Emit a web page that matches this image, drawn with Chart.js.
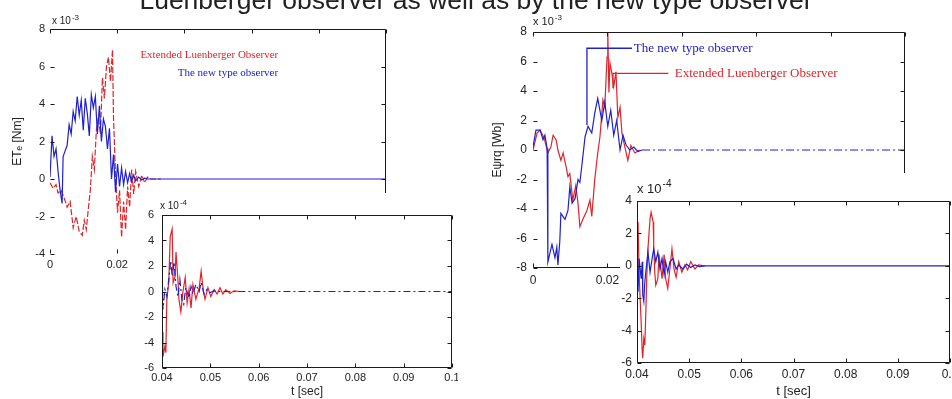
<!DOCTYPE html>
<html>
<head>
<meta charset="utf-8">
<script src="https://cdn.jsdelivr.net/npm/chart.js@4.4.1/dist/chart.umd.min.js"></script>
<style>
  body { margin: 0; width: 952px; height: 399px; background: #fff; overflow: hidden; position: relative; }
  canvas { position: absolute; }
  #title { position: absolute; left: 0; width: 952px; top: -15px; text-align: center;
           font: 26.5px/30px "Liberation Sans", Arial, sans-serif; color: #222; white-space: nowrap; }
</style>
</head>
<body>
<canvas id="mainL" width="400" height="272" style="left:0;top:0"></canvas>
<canvas id="mainR" width="420" height="285" style="left:490px;top:0"></canvas>
<canvas id="insetL" width="318" height="206" style="left:140px;top:193px"></canvas>
<canvas id="insetR" width="332" height="226" style="left:620px;top:173px"></canvas>
<div id="title">Luenberger observer as well as by the new type observer</div>
<script>
// ---- data ----
// left main: torque error, x 10^-3
const tNewL = [0, .0006, .0012, .0018, .0024, .003, .0036, .0039, .0045, .0051, .0057, .0063, .0069, .0075, .0081, .0087, .0093, .0099, .0105, .0111, .0117, .0123, .0129, .0135, .0141, .0147, .0153, .0159, .0165, .0171, .0177, .0183, .0189, .0195, .0201, .0207, .0213, .0219, .0225, .0231, .0237, .0243, .0249, .0255, .0264, .0273, .0282, .0291, .03, .1];
const eNewL = [0.1, 2.3, 1.2, 1.6, 0.4, -0.6, -1.3, 1.2, 1.5, 1.8, 2.9, 2.4, 3.6, 3.1, 4.4, 3.4, 4.2, 2.6, 4.3, 3.5, 2.3, 4.5, 3.8, 4.4, 2.4, 3.9, 2.0, 3.2, 2.8, 1.6, 2.7, 0.0, 1.3, -0.7, 0.8, -0.4, 0.6, -0.3, 0.4, -0.2, 0.3, -0.15, 0.2, -0.1, 0.1, -0.05, 0.05, 0, 0, 0];
const tExtL = [0, .0009, .0018, .0024, .0033, .0042, .0051, .006, .0069, .0078, .0087, .0096, .0102, .0108, .0114, .012, .0126, .0132, .0138, .0144, .015, .0156, .0162, .0168, .0174, .018, .0186, .0189, .0195, .0201, .0207, .0213, .0219, .0225, .0231, .0237, .0243, .0249, .0255, .0264, .0273, .0282, .029, .03, .033];
const eExtL = [-0.2, -0.5, -0.3, -0.75, -0.6, -1.0, -1.5, -1.2, -2.6, -2.0, -2.8, -3.0, -2.2, -2.7, -1.6, -0.6, 1.2, 0.5, 2.6, 3.3, 2.4, 5.4, 4.3, 6.0, 6.5, 5.2, 6.9, 3.3, 0.2, -1.8, -0.6, -3.1, -1.2, -2.7, -0.4, -1.5, 0.5, -0.8, 0.4, -0.4, 0.2, -0.2, 0.1, 0, 0];

// right main: flux error, x 10^-3
const tNewR = [0, .0008, .0019, .0027, .0032, .0038, .004, .0051, .0059, .0064, .0067, .0072, .0075, .0086, .0094, .0099, .0105, .0113, .0121, .0126, .0132, .014, .0148, .0158, .0166, .0174, .0185, .0193, .0201, .0209, .0217, .0225, .0234, .0242, .025, .026, .0271, .0282, .0293, .1];
const eNewR = [0.2, 1.35, 1.35, 0.7, 1.0, 0.1, -7.6, -6.4, -7.3, -6.6, -7.8, -6.2, -4.3, -4.7, -4.1, -2.5, -3.6, -3.3, -2.0, -2.2, -0.9, 0.9, 1.6, 1.15, 2.5, 3.5, 2.0, 3.25, 1.6, 2.7, 1.0, 2.0, 0, 1.0, 0.35, 0, 0.2, -0.1, 0, 0];
const tExtR = [0, .0011, .0019, .003, .004, .0048, .0054, .0062, .0067, .0075, .0081, .0089, .0094, .0099, .0107, .0115, .0121, .0126, .0134, .0145, .0153, .0158, .0166, .0174, .018, .0188, .0193, .0199, .0201, .0204, .0207, .0212, .0217, .0223, .0228, .0234, .0239, .0247, .0255, .0263, .0274, .0287];
const eExtR = [0, 1.15, 1.35, 0.8, -0.2, 0.2, 1.0, 0.7, 0, -0.7, -0.2, -1.15, -1.8, -1.6, -3.4, -2.4, -3.6, -5.2, -4.7, -4.1, -3.4, -4.5, -2.0, -0.2, 0.9, 3.4, 2.9, 6.3, 8.2, 3.9, 5.9, 5.2, 4.3, 5.3, 2.2, 2.9, 1.15, 0.2, -0.7, 0.3, -0.2, 0];
// leader lines of the right-hand labels
const leadNewT = [0.0145, 0.0145, 0.0266];
const leadNewV = [1.7, 6.9, 6.9];
const leadExtT = [0.0215, 0.0215, 0.0364];
const leadExtV = [4.2, 5.2, 5.2];

// left inset: zoom 0.04..0.1, x 10^-4
const tNewLi = [.04, .0401, .0402, .0406, .041, .0414, .0418, .0421, .0425, .0429, .0433, .0437, .0441, .0445, .0449, .0456, .046, .0464, .047, .0477, .0481, .0487, .0493, .0499, .0507, .052, .1];
const eNewLi = [-0.6, 0.4, -1.4, 0.15, -0.4, 0.95, 2.4, 1.2, 2.3, 0.4, -0.4, 0.95, -0.6, -1.0, 0.3, -0.5, 0.4, -0.2, 0.55, 0, 0.7, -0.2, 0.15, -0.1, 0.05, 0, 0];
const tExtLi = [.04, .0402, .0406, .0408, .041, .0414, .0417, .0421, .0423, .0427, .0429, .0433, .0435, .0439, .0443, .0448, .0452, .0456, .046, .0464, .047, .0477, .0481, .0485, .0489, .0495, .0501, .0508, .0514, .052, .0526, .0532, .0541, .0549, .0561];
const eExtLi = [-3.2, -5.1, -4.3, -4.8, -0.6, 0.7, 4.3, 4.9, 0.7, 1.2, 3.1, 0.9, -0.6, -1.6, -0.1, 1.1, -0.9, 0.2, -1.3, 0.55, -0.6, 0.3, 1.6, 0.2, -0.6, 0.3, -0.4, 0.15, -0.2, 0.3, -0.2, 0.15, -0.15, 0.05, 0];

// right inset: zoom 0.04..0.1, x 10^-4
const tNewRi = [.04, .0402, .0404, .0408, .041, .0411, .0413, .0415, .0419, .0421, .0425, .0429, .0432, .0436, .044, .0444, .0448, .0452, .0455, .0459, .0463, .0469, .0475, .048, .0488, .0495, .0503, .0511, .052, .053, .1];
const eNewRi = [-0.8, -1.6, 0.45, -0.8, 0.25, -1.8, -2.2, -1.0, 0.25, 0.85, -0.4, 0.45, 1.05, 0.25, 0.85, -0.2, 0.45, -0.55, 0.25, -0.4, 0.25, 0.45, -0.2, 0.05, -0.2, 0.1, -0.1, 0.05, -0.05, 0, 0];
const tExtRi = [.04, .0402, .0404, .0406, .0408, .041, .0411, .0413, .0415, .0417, .0419, .0421, .0425, .0427, .0431, .0432, .0434, .0436, .044, .0442, .0446, .0448, .0452, .0455, .0459, .0463, .0467, .0471, .0475, .048, .0486, .0492, .0497, .0503, .0511, .0518, .053];
const eExtRi = [2.1, 2.7, -0.4, -2.0, -3.5, -5.3, -5.7, -4.5, -4.9, -2.8, -0.4, 1.05, 2.9, 3.3, 2.7, 1.3, -0.4, -1.2, -0.8, 0.7, -0.2, -0.8, 0.7, -0.8, -1.4, -0.2, 1.05, -0.2, -0.7, 0.25, -0.4, 0.05, -0.25, 0.25, -0.2, 0.05, 0];

const RED = '#e0242a';
const BLUE = '#2020cc';
const SANS = '"Liberation Sans", Arial, sans-serif';
const SERIF = '"Liberation Serif", "Times New Roman", serif';

function pts(ts, vs) {
  return ts.map((t, i) => ({ x: t, y: vs[i] }));
}

// white box, partial frame, inward ticks, exponent and text labels
const frameLines = {
  id: 'frameLines',
  beforeDraw(chart, args, o) {
    if (!o.bg) return;
    chart.ctx.fillStyle = '#fff';
    chart.ctx.fillRect(0, 0, chart.width, chart.height);
  },
  afterDatasetsDraw(chart, args, o) {
    const { ctx, chartArea: a, scales: { x, y } } = chart;
    const L = Math.round(a.left) + 0.5, R = Math.round(a.right) - 0.5;
    const T = Math.round(a.top) + 0.5, B = Math.round(a.bottom) - 0.5;
    ctx.save();
    ctx.strokeStyle = '#1a1a1a';
    ctx.lineWidth = 1;
    ctx.beginPath();
    const sides = o.sides || [];
    if (sides.includes('top')) { ctx.moveTo(L, T); ctx.lineTo(R, T); }
    if (sides.includes('bottom')) { ctx.moveTo(L, B); ctx.lineTo(R, B); }
    if (sides.includes('left')) { ctx.moveTo(L, T); ctx.lineTo(L, B); }
    if (sides.includes('right')) { ctx.moveTo(R, T); ctx.lineTo(R, B); }
    const tl = 4;
    x.ticks.forEach(t => {
      const px = Math.round(x.getPixelForValue(t.value)) + 0.5;
      ctx.moveTo(px, T); ctx.lineTo(px, T + tl);
      ctx.moveTo(px, B); ctx.lineTo(px, B - tl);
    });
    y.ticks.forEach(t => {
      const py = Math.round(y.getPixelForValue(t.value)) + 0.5;
      ctx.moveTo(L, py); ctx.lineTo(L + tl, py);
      ctx.moveTo(R, py); ctx.lineTo(R - tl, py);
    });
    ctx.stroke();

    if (o.expo) {
      const e = o.expo;
      ctx.fillStyle = '#222';
      ctx.textBaseline = 'alphabetic';
      ctx.textAlign = 'left';
      ctx.font = e.size + 'px ' + SANS;
      const bx = a.left + e.dx, by = a.top - e.dy;
      ctx.fillText('x 10', bx, by);
      const w = ctx.measureText('x 10').width;
      ctx.font = Math.round(e.size * 0.75) + 'px ' + SANS;
      ctx.fillText(e.sup, bx + w + 1, by - e.size * 0.45);
    }

    (o.notes || []).forEach(n => {
      ctx.fillStyle = n.color;
      ctx.font = n.size + 'px ' + SERIF;
      ctx.textAlign = 'left';
      ctx.textBaseline = 'middle';
      ctx.fillText(n.text, x.getPixelForValue(n.x), y.getPixelForValue(n.y));
    });
    ctx.restore();
  }
};
Chart.register(frameLines);

function makePlot(id, o) {
  return new Chart(document.getElementById(id), {
    type: 'line',
    data: { datasets: o.datasets },
    options: {
      responsive: false,
      animation: false,
      layout: { padding: o.pad },
      elements: { point: { radius: 0 }, line: { tension: 0, borderWidth: 1.2 } },
      plugins: {
        legend: { display: false },
        tooltip: { enabled: false },
        frameLines: o.frame
      },
      scales: {
        x: {
          type: 'linear', min: o.x[0], max: o.x[1],
          grid: { display: false, drawTicks: false }, border: { display: false },
          ticks: { stepSize: o.x[2], autoSkip: false, maxRotation: 0, padding: o.xPad,
                   color: '#222', font: { family: SANS, size: o.fs },
                   callback: v => String(Math.round(v * 100) / 100) },
          title: o.xTitle ? { display: true, text: o.xTitle, color: '#222',
                              font: { family: SANS, size: o.fs + 1 }, padding: { top: 0, bottom: 0 } } : { display: false },
          afterFit: s => { s.height = o.xH; s.paddingLeft = 0; s.paddingRight = 0; }
        },
        y: {
          min: o.y[0], max: o.y[1],
          grid: { display: false, drawTicks: false }, border: { display: false },
          ticks: { stepSize: o.y[2], autoSkip: false, padding: o.yPad,
                   color: '#222', font: { family: SANS, size: o.fs } },
          title: o.yTitle ? { display: true, text: o.yTitle, color: '#222',
                              font: { family: SANS, size: 12 }, padding: { top: o.yTitlePad, bottom: 0 } } : { display: false },
          afterFit: s => { s.width = o.yW; s.paddingTop = 0; s.paddingBottom = 0; }
        }
      }
    }
  });
}

makePlot('mainL', {
  pad: { top: 29, right: 14, left: 0, bottom: 0 },
  x: [0, 0.1, 0.02], y: [-4, 8, 2], xH: 18, yW: 50, xPad: 4, yPad: 5, fs: 11,
  yTitle: 'ET\u2091 [Nm]', yTitlePad: 10,
  frame: {
    sides: ['top', 'right'],
    expo: { sup: '-3', dx: 2, dy: 5, size: 10 },
    notes: [
      { text: 'Extended Luenberger Observer', color: RED, size: 11, x: 0.0269, y: 6.6 },
      { text: 'The new type observer', color: BLUE, size: 11, x: 0.038, y: 5.65 }
    ]
  },
  datasets: [
    { data: pts(tNewL, eNewL), borderColor: BLUE },
    { data: pts(tExtL, eExtL), borderColor: RED, borderDash: [6, 2] }
  ]
});

makePlot('mainR', {
  pad: { top: 32, right: 5, left: 0, bottom: 0 },
  x: [0, 0.1, 0.02], y: [-8, 8, 2], xH: 17, yW: 43, xPad: 5, yPad: 6, fs: 12,
  yTitle: 'E\u03C8rq [Wb]', yTitlePad: 0,
  frame: {
    sides: ['top', 'right', 'bottom'],
    expo: { sup: '-3', dx: 0, dy: 7, size: 11 },
    notes: [
      { text: 'The new type observer', color: BLUE, size: 13, x: 0.0271, y: 6.9 },
      { text: 'Extended Luenberger Observer', color: RED, size: 13, x: 0.0381, y: 5.2 }
    ]
  },
  datasets: [
    { data: pts(tNewR, eNewR), borderColor: BLUE,
      segment: { borderDash: c => c.p0.parsed.x >= 0.0293 ? [8, 3, 2, 3] : undefined } },
    { data: pts(leadNewT, leadNewV), borderColor: BLUE, borderWidth: 1.3 },
    { data: pts(tExtR, eExtR), borderColor: RED },
    { data: pts(leadExtT, leadExtV), borderColor: RED, borderWidth: 1.3 }
  ]
});

makePlot('insetL', {
  pad: { top: 22, right: 6, left: 0, bottom: 0 },
  x: [0.04, 0.1, 0.01], y: [-6, 6, 2], xH: 31, yW: 22, xPad: 3, yPad: 8, fs: 11,
  xTitle: 't [sec]',
  frame: { bg: true, sides: ['top', 'right', 'bottom', 'left'], expo: { sup: '-4', dx: -2, dy: 6, size: 10 } },
  datasets: [
    { data: pts(tNewLi, eNewLi), borderColor: BLUE, borderDash: [7, 3, 2, 3] },
    { data: pts(tExtLi, eExtLi), borderColor: RED }
  ]
});

makePlot('insetR', {
  pad: { top: 28, right: 2, left: 0, bottom: 0 },
  x: [0.04, 0.1, 0.01], y: [-6, 4, 2], xH: 36, yW: 17, xPad: 4, yPad: 5, fs: 12,
  xTitle: 't [sec]',
  frame: { bg: true, sides: ['top', 'right', 'bottom', 'left'], expo: { sup: '-4', dx: 0, dy: 8, size: 13 } },
  datasets: [
    { data: pts(tNewRi, eNewRi), borderColor: BLUE },
    { data: pts(tExtRi, eExtRi), borderColor: RED }
  ]
});
</script>
</body>
</html>
